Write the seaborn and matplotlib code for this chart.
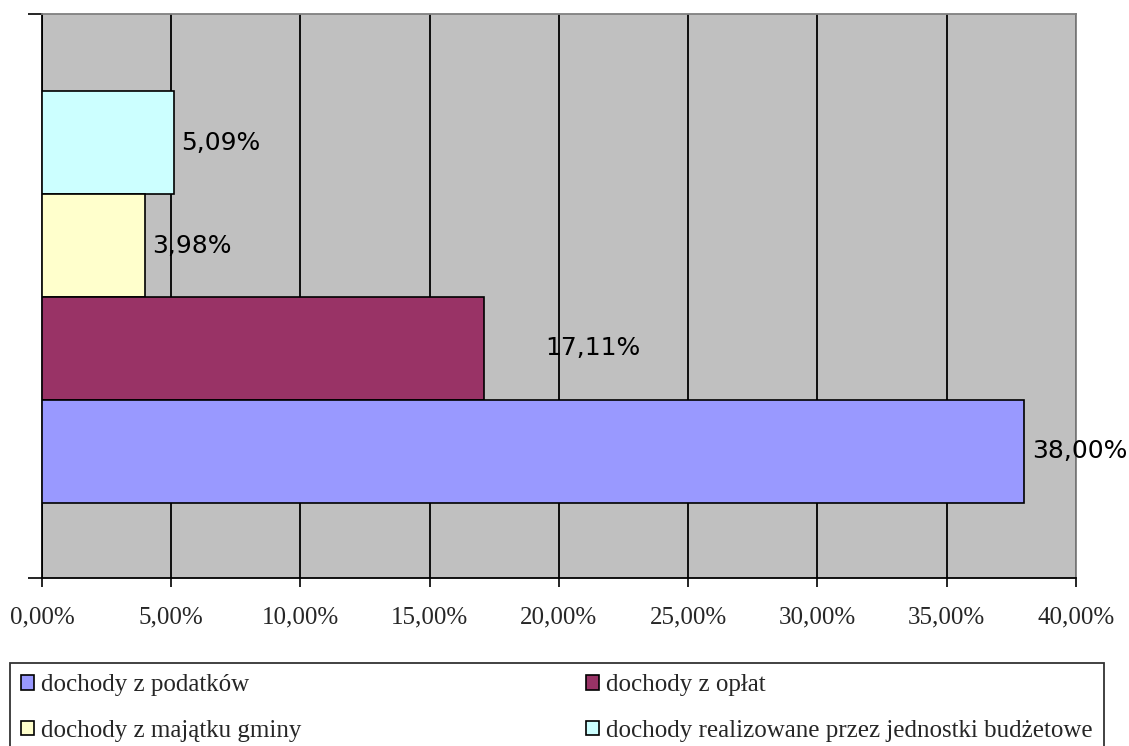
import numpy as np
import matplotlib
matplotlib.use("Agg")
import matplotlib.pyplot as plt
import seaborn as sns
from matplotlib.patches import Patch

# dane (udzial w dochodach, %)
names = ["dochody realizowane przez jednostki budżetowe",
         "dochody z majątku gminy",
         "dochody z opłat",
         "dochody z podatków"]
values = [5.09, 3.98, 17.11, 38.00]
colors = ["#CCFFFF", "#FFFFCC", "#993366", "#9999FF"]
value_labels = ["5,09%", "3,98%", "17,11%", "38,00%"]
label_pad = [5.5, 5, 44, 5.5]  # przesuniecie etykiet w punktach
x_ticks = [0, 5, 10, 15, 20, 25, 30, 35, 40]
x_tick_labels = ["0,00%", "5,00%", "10,00%", "15,00%", "20,00%",
                 "25,00%", "30,00%", "35,00%", "40,00%"]
legend_order = ["dochody z podatków", "dochody z majątku gminy",
                "dochody z opłat", "dochody realizowane przez jednostki budżetowe"]

sns.set_theme(style="white")
plt.rcParams['font.family'] = ['Liberation Serif', 'DejaVu Serif']

fig = plt.figure(figsize=(11.29, 7.46), dpi=100)
ax = fig.add_axes([0.0372, 0.2252, 0.9158, 0.756])

palette = dict(zip(names, colors))
sns.barplot(x=values, y=names, hue=names, order=names, hue_order=names,
            palette=palette, saturation=1, width=1.0, dodge=False,
            edgecolor="black", linewidth=1.2, legend=False, ax=ax, zorder=3)

ax.set_facecolor("#C0C0C0")
ax.set_xlim(0, 40)
ax.set_ylim(4.23, -1.25)
ax.set_xticks(x_ticks)
ax.set_xticklabels(x_tick_labels, fontsize=18)
ax.set_yticks([4.23, -1.25])
ax.set_yticklabels(["", ""])
ax.set_xlabel("")
ax.set_ylabel("")

# pionowe linie siatki
ax.grid(axis="x", color="black", linewidth=1.3, zorder=1)
ax.set_axisbelow(True)
ax.tick_params(axis="x", direction="out", length=6.5, width=1.2, color="black",
               pad=14, bottom=True)
ax.tick_params(axis="y", direction="out", length=10, width=1.2, color="black",
               left=True)

for side in ["left", "bottom"]:
    ax.spines[side].set_color("black")
    ax.spines[side].set_linewidth(1.3)
for side in ["top", "right"]:
    ax.spines[side].set_color("#808080")
    ax.spines[side].set_linewidth(1.3)

# etykiety wartosci
for i, (v, lab, pad) in enumerate(zip(values, value_labels, label_pad)):
    ax.annotate(lab, xy=(v, i), xytext=(pad, 0), textcoords="offset points",
                ha="left", va="center", fontsize=18, family="DejaVu Sans",
                color="black", annotation_clip=False, zorder=5)

handles = [Patch(facecolor=palette[n], edgecolor="black", linewidth=1.2, label=n)
           for n in legend_order]
leg = fig.legend(handles=handles, loc="upper left", ncol=2, mode="expand",
                 bbox_to_anchor=(0.00886, 0, 0.969, 0.111),
                 fontsize=18, frameon=True, fancybox=False, edgecolor="black",
                 handlelength=0.5, handleheight=0.5, handletextpad=0.3,
                 borderpad=0.45, labelspacing=0.95, borderaxespad=0)
leg.get_frame().set_linewidth(1.3)

plt.savefig("out.png", dpi=100)
